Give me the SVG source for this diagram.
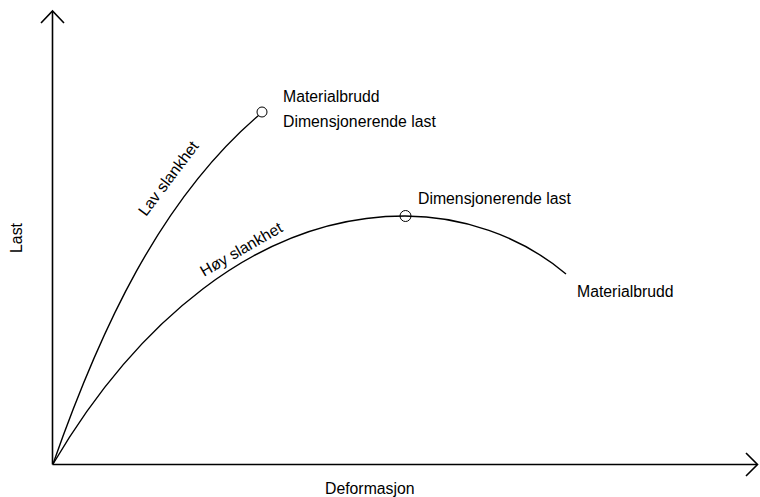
<svg xmlns="http://www.w3.org/2000/svg" width="760" height="497" viewBox="0 0 760 497">
<style>
.ax{fill:none;stroke:#000;stroke-width:1.6}
.cv{fill:none;stroke:#000;stroke-width:1.4}
.pt{fill:none;stroke:#000;stroke-width:1}
text{font-family:"Liberation Sans",Arial,sans-serif;font-size:15.8px;fill:#000}
</style>
<rect width="760" height="497" fill="#fff"/>
<g id="axes">
<path class="ax" d="M52.5,464.5 V11"/>
<path class="ax" d="M41,23 L52.5,11 L64,23"/>
<path class="ax" d="M52.5,464.5 H757"/>
<path class="ax" d="M746,453 L757.5,464.5 L746,476"/>
<text x="22" y="238" transform="rotate(-90 22 238)" text-anchor="middle">Last</text>
<text x="325" y="494">Deformasjon</text>
</g>
<g id="connectors">
<path id="lav" class="cv" d="M53,464 C100,330 160,200 258.5,115.5"/>
<path id="hoy" class="cv" d="M53,464 C133,328 255,216 405,216 C460,216 520,235 566,274"/>
</g>
<g id="lav-point">
<circle class="pt" cx="262" cy="112" r="5"/>
<text x="283" y="102">Materialbrudd</text>
<text x="283" y="127">Dimensjonerende last</text>
</g>
<g id="hoy-point">
<circle class="pt" cx="405.5" cy="216" r="5.5"/>
<text x="418" y="204">Dimensjonerende last</text>
</g>
<g id="hoy-end">
<text x="577" y="297">Materialbrudd</text>
</g>
<g id="labels">
<text x="146" y="217" transform="rotate(-53 146 217)">Lav slankhet</text>
<text x="204" y="277" transform="rotate(-30 204 277)">Høy slankhet</text>
</g>
</svg>
